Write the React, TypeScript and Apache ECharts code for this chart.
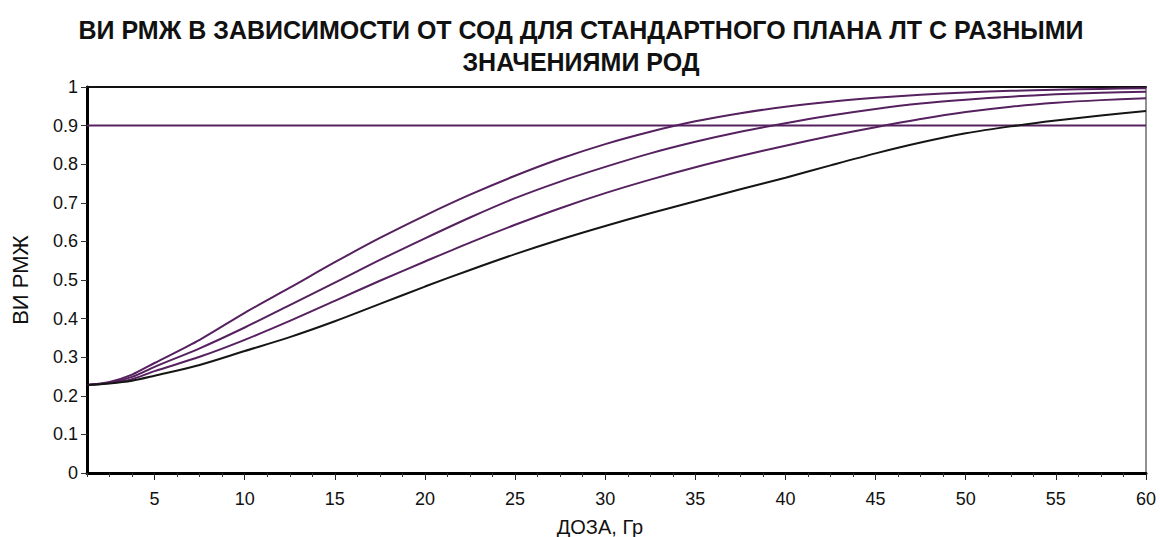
import React, { useEffect, useRef } from "react";
import * as echarts from "echarts";

// Dose, Gy
const doses = [1.25, 2.5, 3.75, 5, 7.5, 10, 12.5, 15, 17.5, 20, 22.5, 25, 27.5, 30, 32.5, 35, 37.5, 40, 42.5, 45, 47.5, 50, 52.5, 55, 57.5, 60];

// Probability curves for four values of the single fraction dose
const curveA = [0.228, 0.236, 0.255, 0.285, 0.345, 0.415, 0.480, 0.546, 0.609, 0.667, 0.721, 0.770, 0.814, 0.852, 0.884, 0.911, 0.932, 0.949, 0.962, 0.972, 0.980, 0.986, 0.990, 0.993, 0.995, 0.997];
const curveB = [0.228, 0.234, 0.249, 0.275, 0.323, 0.377, 0.435, 0.493, 0.552, 0.608, 0.662, 0.712, 0.755, 0.793, 0.828, 0.858, 0.884, 0.906, 0.926, 0.943, 0.957, 0.967, 0.975, 0.981, 0.985, 0.988];
const curveC = [0.228, 0.233, 0.243, 0.264, 0.301, 0.345, 0.394, 0.446, 0.498, 0.548, 0.597, 0.643, 0.686, 0.725, 0.760, 0.792, 0.821, 0.848, 0.873, 0.896, 0.917, 0.935, 0.949, 0.959, 0.966, 0.971];
const curveD = [0.228, 0.232, 0.239, 0.252, 0.280, 0.316, 0.352, 0.393, 0.438, 0.483, 0.526, 0.567, 0.605, 0.640, 0.673, 0.704, 0.735, 0.765, 0.797, 0.828, 0.856, 0.880, 0.898, 0.913, 0.926, 0.938];

// Reference level
const threshold = 0.9;

// Axis ticks
const xMajorTicks = [5, 10, 15, 20, 25, 30, 35, 40, 45, 50, 55, 60];
const xMinorTicks = [1.25, 2.5, 3.75, 6.25, 7.5, 8.75, 11.25, 12.5, 13.75, 16.25, 17.5, 18.75, 21.25, 22.5, 23.75, 26.25, 27.5, 28.75, 31.25, 32.5, 33.75, 36.25, 37.5, 38.75, 41.25, 42.5, 43.75, 46.25, 47.5, 48.75, 51.25, 52.5, 53.75, 56.25, 57.5, 58.75];

const X_MIN = 1.25;
const X_MAX = 60;

const PURPLE = "#56215f";
const BLACK = "#151515";
const FONT = "'Liberation Sans', Arial, sans-serif";

export default function App() {
  const ref = useRef<HTMLDivElement>(null);

  useEffect(() => {
    if (!ref.current) return;
    const chart = echarts.init(ref.current, null, { renderer: "svg" });

    const toPairs = (ys: number[]) => doses.map((d, i) => [d, ys[i]]);
    const curve = (name: string, ys: number[], color: string) => ({
      name,
      type: "line",
      data: toPairs(ys),
      smooth: 0.3,
      showSymbol: false,
      lineStyle: { color, width: 2 },
      z: 3,
    });

    chart.setOption({
      animation: false,
      backgroundColor: "#ffffff",
      title: {
        text: "ВИ РМЖ В ЗАВИСИМОСТИ ОТ СОД ДЛЯ СТАНДАРТНОГО ПЛАНА ЛТ С РАЗНЫМИ\nЗНАЧЕНИЯМИ РОД",
        left: 576,
        top: 9,
        textAlign: "center",
        textStyle: {
          fontFamily: FONT,
          fontWeight: "bold",
          fontSize: 25,
          lineHeight: 32,
          color: "#111",
        },
      },
      graphic: [
        {
          type: "text",
          x: 600,
          y: 527,
          style: {
            text: "ДОЗА, Гр",
            fontFamily: FONT,
            fontSize: 20,
            fill: "#111",
            textAlign: "center",
            textVerticalAlign: "middle",
          },
        },
      ],
      grid: {
        left: 87,
        right: 14,
        top: 87,
        bottom: 64,
        show: true,
        borderColor: "#222",
        borderWidth: 1,
        containLabel: false,
      },
      xAxis: [
        {
          type: "value",
          min: X_MIN,
          max: X_MAX,
          axisLine: { show: true, lineStyle: { color: "#000", width: 3 } },
          axisTick: { show: true, customValues: xMajorTicks, length: 7, lineStyle: { color: "#222", width: 1 } },
          axisLabel: { customValues: xMajorTicks, margin: 17, fontFamily: FONT, fontSize: 18, color: "#111" },
          splitLine: { show: false },
        },
        {
          type: "value",
          min: X_MIN,
          max: X_MAX,
          position: "bottom",
          axisLine: { show: false },
          axisTick: { show: true, customValues: xMinorTicks, length: 4, lineStyle: { color: "#333", width: 1 } },
          axisLabel: { show: false },
          splitLine: { show: false },
        },
        {
          // heavier top frame edge
          type: "value",
          min: X_MIN,
          max: X_MAX,
          position: "top",
          axisLine: { show: true, lineStyle: { color: "#111", width: 2 } },
          axisTick: { show: false },
          axisLabel: { show: false },
          splitLine: { show: false },
        },
      ],
      yAxis: {
        type: "value",
        min: 0,
        max: 1,
        interval: 0.1,
        name: "ВИ РМЖ",
        nameLocation: "middle",
        nameGap: 56,
        nameRotate: 90,
        nameTextStyle: { fontFamily: FONT, fontSize: 22, color: "#111" },
        axisLine: { show: true, lineStyle: { color: "#000", width: 3 } },
        axisTick: { show: true, length: 6, lineStyle: { color: "#333", width: 1 } },
        axisLabel: {
          margin: 9,
          fontFamily: FONT,
          fontSize: 18,
          color: "#111",
          formatter: (v: number) => String(Math.round(v * 10) / 10),
        },
        splitLine: { show: false },
      },
      series: [
        {
          name: "level",
          type: "line",
          data: [[X_MIN, threshold], [X_MAX, threshold]],
          showSymbol: false,
          lineStyle: { color: PURPLE, width: 2 },
          z: 2,
        },
        curve("A", curveA, PURPLE),
        curve("B", curveB, PURPLE),
        curve("C", curveC, PURPLE),
        curve("D", curveD, BLACK),
      ],
    });

    return () => chart.dispose();
  }, []);

  return (
    <div
      ref={ref}
      style={{ position: "fixed", left: 0, top: 0, width: 1160, height: 537, background: "#fff" }}
    />
  );
}
